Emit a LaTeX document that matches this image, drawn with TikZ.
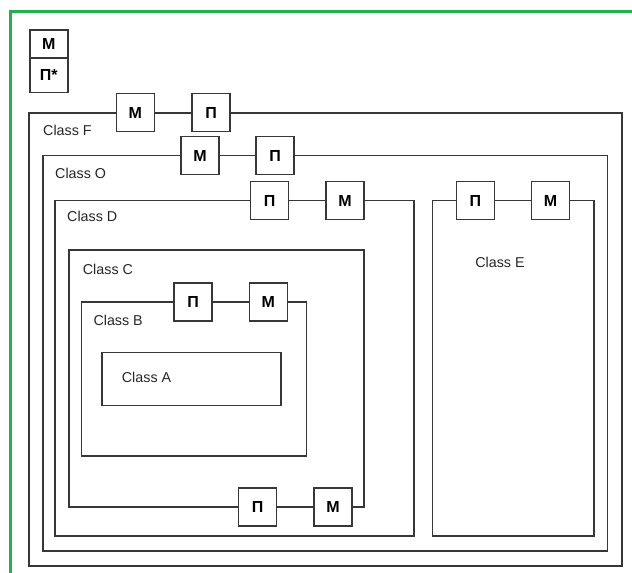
\documentclass[tikz,border=0pt]{standalone}
\usepackage{fontspec}
\setmainfont{Liberation Sans}
\definecolor{lineg}{RGB}{55,55,55}
\definecolor{frameg}{RGB}{34,177,76}
\tikzset{
  cls/.style={draw=lineg, line width=1.5pt, inner sep=0pt},
  mbox/.style={draw=lineg, line width=1.5pt, fill=white, inner sep=0pt,
    minimum width=38pt, minimum height=38pt, font=\fontsize{16}{16}\selectfont\bfseries},
  lbl/.style={anchor=west, inner sep=0pt, font=\fontsize{14.3}{14.3}\selectfont, text=black!85},
}
\begin{document}
\begin{tikzpicture}[x=1pt, y=-1pt]
\useasboundingbox (0,0) rectangle (632,573);
% green frame (top and left)
\draw[frameg, line width=3pt] (10.5,573) -- (10.5,11) -- (632,11);
% legend
\node (lm) [mbox, minimum height=28.6pt, anchor=north west] at (29,29) {М};
\node (lp) [mbox, minimum height=34.4pt, anchor=north west] at (29,57.3) {П*};
% class rectangles
\node (F) [cls, minimum width=593pt, minimum height=453pt] at (325.5,339.5) {};
\node (O) [cls, minimum width=564.5pt, minimum height=395.5pt] at (325.25,353.25) {};
\node (D) [cls, minimum width=359pt, minimum height=335.5pt] at (234.5,368.25) {};
\node (E) [cls, minimum width=161.7pt, minimum height=335.5pt] at (513.15,368.25) {};
\node (C) [cls, minimum width=295pt, minimum height=257pt] at (216.5,378.5) {};
\node (B) [cls, minimum width=225.4pt, minimum height=154pt] at (194,379) {};
\node (A) [cls, minimum width=179pt, minimum height=53.4pt] at (191.5,379) {};
% labels
\node (lF) [lbl] at (43,130.5) {Class F};
\node (lO) [lbl] at (55,173) {Class O};
\node (lD) [lbl] at (67,216) {Class D};
\node (lC) [lbl] at (82.7,269) {Class C};
\node (lB) [lbl] at (93.3,320) {Class B};
\node (lA) [lbl] at (121.7,377) {Class A};
\node (lE) [lbl, anchor=center] at (500,262.5) {Class E};
% boxes on the borders
\node (fm) [mbox] at (135.3,112.7) {М};
\node (fp) [mbox] at (211,112.7) {П};
\node (om) [mbox] at (200,155.5) {М};
\node (op) [mbox] at (275,155.5) {П};
\node (dp) [mbox] at (269.5,200.5) {П};
\node (dm) [mbox] at (345,200.5) {М};
\node (ep) [mbox] at (475.3,200.5) {П};
\node (em) [mbox] at (550.5,200.5) {М};
\node (bp) [mbox] at (193,302) {П};
\node (bm) [mbox] at (268.3,302) {М};
\node (cp) [mbox] at (257.5,507) {П};
\node (cm) [mbox] at (333,507) {М};
\end{tikzpicture}
\end{document}
